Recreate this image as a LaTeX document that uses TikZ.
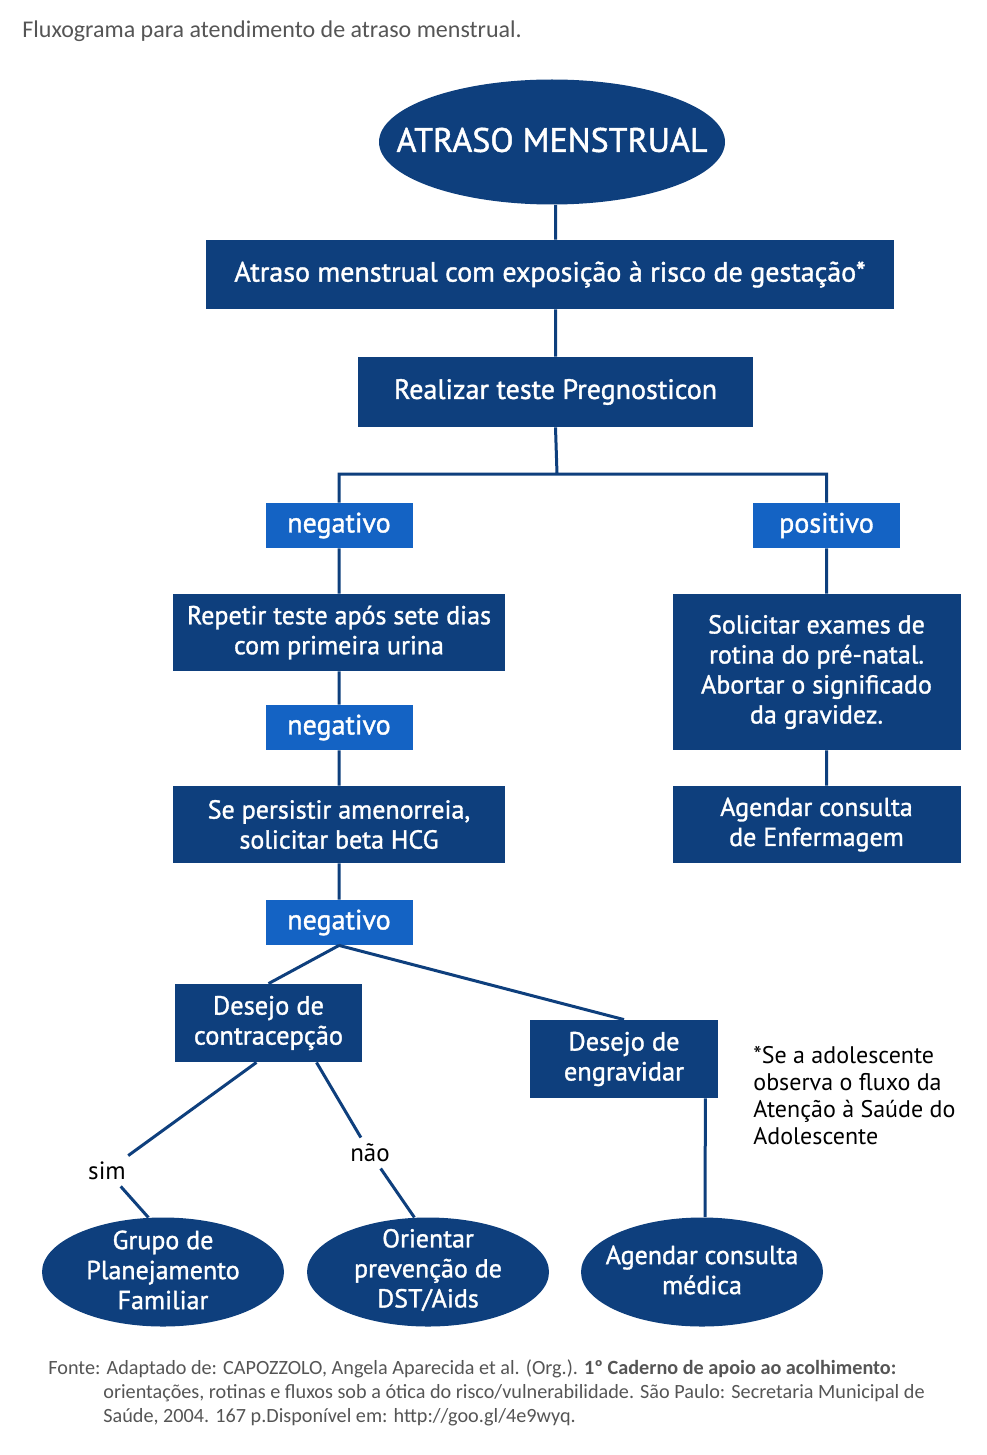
\documentclass[tikz,border=0pt]{standalone}
\usepackage{fontspec}
\setmainfont{PT Sans}
\newfontfamily\boxfont{PT Sans}[FakeBold=1.3]
\newfontfamily\notefont{Carlito}
\usetikzlibrary{shapes.geometric,positioning}
\definecolor{navy}{HTML}{0E3F7D}
\definecolor{sky}{HTML}{1463C4}
\definecolor{ink}{HTML}{555555}

\tikzset{
  x=0.5pt, y=-0.5pt, % one unit is one pixel of the page
  box/.style={fill=navy, text=white, inner sep=0pt, align=center, font=\boxfont\fontsize{13}{15}\selectfont},
  big/.style={font=\boxfont\fontsize{14}{15}\selectfont},
  tag/.style={fill=sky, text=white, inner sep=0pt, minimum width=73.5pt, minimum height=22.5pt, font=\boxfont\fontsize{14}{15}\selectfont},
  oval/.style={ellipse, fill=navy, inner sep=0pt, minimum width=121pt, minimum height=54.5pt,
    label={[text=white, align=center, yshift=1pt, font=\boxfont\fontsize{13}{15}\selectfont]center:#1}}, % text kept apart so it does not widen the ellipse
  link/.style={draw=navy, line width=1.5pt}, % the connectors
  answer/.style={inner sep=3pt, font=\fontsize{12.5}{13.5}\selectfont},
}

\begin{document}
\begin{tikzpicture}
    \useasboundingbox (0,0) rectangle (986,1455);
    \node[anchor=base west, inner sep=0pt, font=\notefont\fontsize{12}{15}\selectfont, text=ink] (titulo) at (22,38) {Fluxograma para atendimento de atraso menstrual.};

    % top of the chart
    \node[oval={\fontsize{17}{20}\selectfont ATRASO MENSTRUAL}, minimum width=173pt, minimum height=62.5pt] (atraso) at (552,142) {};
    \node[box, big, minimum width=344pt, minimum height=34.5pt] (risco) at (550,274.5) {Atraso menstrual com exposição à risco de gestação*};
    \node[box, big, minimum width=197.5pt, minimum height=35pt] (teste) at (555.5,392) {Realizar teste Pregnosticon};
    \coordinate (fork) at (557,474);

    % negative branch
    \node[tag] (neg1) at (339,525.5) {negativo};
    \node[box, minimum width=166pt, minimum height=38.5pt] (repetir) at (339,632.5) {Repetir teste após sete dias\\com primeira urina};
    \node[tag] (neg2) at (339,727.5) {negativo};
    \node[box, minimum width=166pt, minimum height=38.5pt] (beta) at (339,824.5) {Se persistir amenorreia,\\solicitar beta HCG};
    \node[tag] (neg3) at (339,922.5) {negativo};
    \node[box, minimum width=93.5pt, minimum height=39pt, font=\boxfont\fontsize{13.2}{15}\selectfont] (contra) at (268.5,1023) {Desejo de\\contracepção};
    \node[box, minimum width=94pt, minimum height=39pt, font=\boxfont\fontsize{13.2}{15}\selectfont] (engravidar) at (624,1059) {Desejo de\\engravidar};
    \node[oval={Grupo de\\Planejamento\\Familiar}] (grupo) at (163,1272) {};
    \node[oval={Orientar\\prevenção de\\DST/Aids}] (dst) at (428,1272) {};
    \node[oval={Agendar consulta\\médica}] (medica) at (702,1272) {};
    \node[answer] (sim) at (107,1171) {sim};
    \node[answer] (nao) at (370,1153) {não};

    % positive branch
    \node[tag] (pos) at (826.5,525.5) {positivo};
    \node[box, minimum width=144pt, minimum height=78pt] (exames) at (816.5,672) {Solicitar exames de\\rotina do pré-natal.\\Abortar o significado\\da gravidez.};
    \node[box, minimum width=144pt, minimum height=38.5pt] (enfermagem) at (816.5,824.5) {Agendar consulta\\de Enfermagem};

    \node[anchor=north west, align=left, inner sep=0pt, font=\fontsize{12}{13.5}\selectfont] (obs) at (753,1046) {*Se a adolescente\\observa o fluxo da\\Atenção à Saúde do\\Adolescente};

    % source
    \node[anchor=base west, inner sep=0pt, font=\notefont\fontsize{10.1}{12}\selectfont, text=ink] (fonte) at (48,1374) {Fonte: Adaptado de: CAPOZZOLO, Angela Aparecida et al. (Org.). \textbf{1º Caderno de apoio ao acolhimento:}};
    \node[anchor=base west, inner sep=0pt, font=\notefont\fontsize{10.1}{12}\selectfont, text=ink] (fonte2) at (103,1398) {orientações, rotinas e fluxos sob a ótica do risco/vulnerabilidade. São Paulo: Secretaria Municipal de};
    \node[anchor=base west, inner sep=0pt, font=\notefont\fontsize{10.1}{12}\selectfont, text=ink] (fonte3) at (103,1422) {Saúde, 2004. 167 p.Disponível em: http://goo.gl/4e9wyq.};

    \draw[link] (teste.north |- atraso.south) -- (teste.north |- risco.north)
                (teste.north |- risco.south) -- (teste.north)
                (teste.south) -- (fork)
                (neg1.north) |- (fork) -| (pos.north)
                (neg1.south) -- (repetir.north)
                (repetir.south) -- (neg2.north)
                (neg2.south) -- (beta.north)
                (beta.south) -- (neg3.north)
                (neg3.south) -- (contra.north)
                (neg3.south) -- (engravidar.north)
                ([xshift=-6pt]contra.south) -- (sim) -- (grupo.105)
                ([xshift=24pt]contra.south) -- (nao) -- (dst.104)
                ([xshift=-6.5pt]engravidar.south east) -- ([xshift=1.5pt]medica.north)
                (pos.south) -- (pos.south |- exames.north)
                (pos.south |- exames.south) -- (pos.south |- enfermagem.north);
\end{tikzpicture}
\end{document}
